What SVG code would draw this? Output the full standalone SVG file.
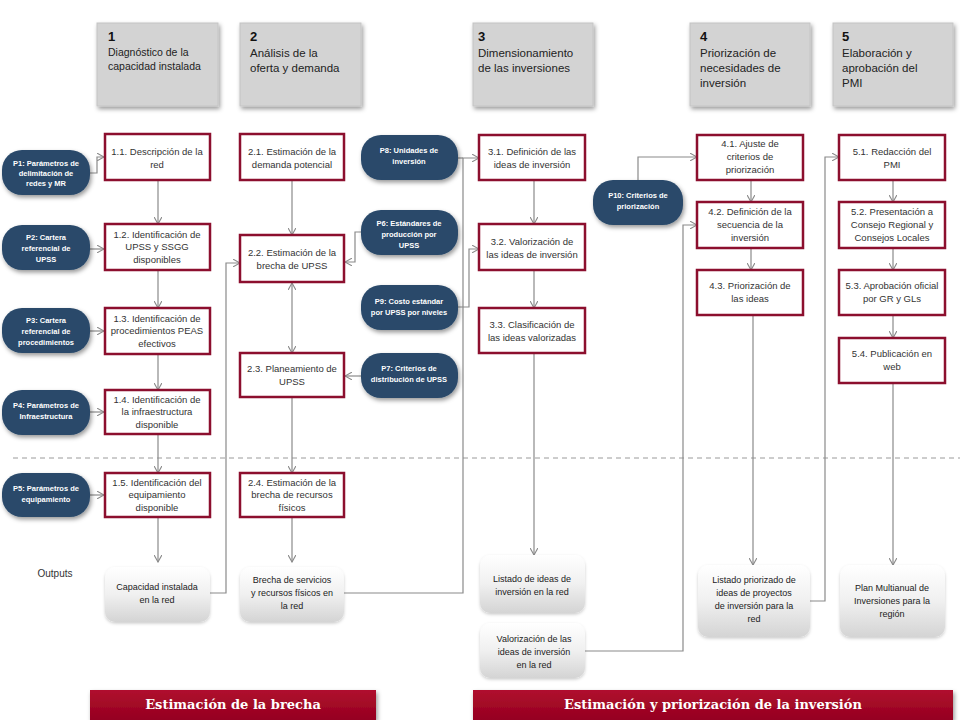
<svg xmlns="http://www.w3.org/2000/svg" width="960" height="720" viewBox="0 0 960 720">
<defs>
<style>
.hdr{fill:#d3d3d3;stroke:#c4c4c4;stroke-width:1;filter:url(#sh)}
.ht{font-family:"Liberation Sans",Arial,sans-serif;font-size:11.5px;fill:#222}
.hn{font-family:"Liberation Sans",Arial,sans-serif;font-size:13px;font-weight:bold;fill:#111}
.step{fill:#fff;stroke:#8c0f2e;stroke-width:2.5}
.st{font-family:"Liberation Sans",Arial,sans-serif;font-size:9.5px;fill:#333;text-anchor:middle}
.pill{fill:#2a4a6b;filter:url(#sh)}
.pt{font-family:"Liberation Sans",Arial,sans-serif;font-size:7.5px;font-weight:bold;fill:#fff;text-anchor:middle}
.out{fill:url(#og);filter:url(#sh2)}
.ot{font-family:"Liberation Sans",Arial,sans-serif;font-size:9px;fill:#222;text-anchor:middle}
.con{fill:none;stroke:#8a8a8a;stroke-width:1.2}
.ban{fill:url(#bg);filter:url(#sh)}
.bt{font-family:"DejaVu Serif","Liberation Serif",serif;font-size:13px;font-weight:bold;fill:#fff;text-anchor:middle}
</style>
<filter id="sh" x="-20%" y="-20%" width="140%" height="150%">
<feDropShadow dx="1.5" dy="2.5" stdDeviation="2" flood-color="#000" flood-opacity="0.4"/>
</filter>
<filter id="sh2" x="-20%" y="-20%" width="140%" height="150%">
<feDropShadow dx="0" dy="1.5" stdDeviation="1.5" flood-color="#000" flood-opacity="0.2"/>
</filter>
<linearGradient id="og" x1="0" y1="0" x2="0" y2="1">
<stop offset="0" stop-color="#ffffff"/>
<stop offset="0.5" stop-color="#f0f0f0"/>
<stop offset="1" stop-color="#d4d4d4"/>
</linearGradient>
<linearGradient id="bg" x1="0" y1="0" x2="0" y2="1">
<stop offset="0" stop-color="#b0102e"/>
<stop offset="1" stop-color="#950020"/>
</linearGradient>
<marker id="ar" viewBox="0 0 10 10" refX="9" refY="5" markerWidth="8" markerHeight="8" orient="auto-start-reverse" markerUnits="userSpaceOnUse">
<path d="M0,0 L9,5 L0,10" fill="none" stroke="#8a8a8a" stroke-width="1.4"/>
</marker>
</defs>
<rect width="960" height="720" fill="#fff"/>

<!-- dashed separator -->
<line x1="13" y1="458" x2="960" y2="458" stroke="#9a9a9a" stroke-width="1" stroke-dasharray="5,4"/>
<text x="55" y="577" font-family="Liberation Sans,Arial,sans-serif" font-size="10" fill="#333" text-anchor="middle">Outputs</text>

<!-- headers -->
<g id="h1"><rect class="hdr" x="97" y="23" width="121" height="83"/><text class="hn" x="108" y="41">1</text><text class="ht" x="108" y="56" style="font-size:10.5px">Diagnóstico de la</text><text class="ht" x="108" y="70" style="font-size:10.5px">capacidad instalada</text></g>
<g id="h2"><rect class="hdr" x="240" y="23" width="121" height="83"/><text class="hn" x="250" y="41">2</text><text class="ht" x="250" y="57">Análisis de la</text><text class="ht" x="250" y="72">oferta y demanda</text></g>
<g id="h3"><rect class="hdr" x="473" y="23" width="120" height="83"/><text class="hn" x="478" y="41">3</text><text class="ht" x="478" y="57">Dimensionamiento</text><text class="ht" x="478" y="72">de las inversiones</text></g>
<g id="h4"><rect class="hdr" x="690" y="23" width="120" height="83"/><text class="hn" x="700" y="41">4</text><text class="ht" x="700" y="57">Priorización de</text><text class="ht" x="700" y="72">necesidades de</text><text class="ht" x="700" y="87">inversión</text></g>
<g id="h5"><rect class="hdr" x="833" y="23" width="120" height="83"/><text class="hn" x="842" y="41">5</text><text class="ht" x="842" y="57">Elaboración y</text><text class="ht" x="842" y="72">aprobación del</text><text class="ht" x="842" y="87">PMI</text></g>

<!-- connectors -->
<g id="connectors">
<path class="con" d="M90,173 H97 V157 H104" marker-end="url(#ar)"/>
<path class="con" d="M90,249 H104" marker-end="url(#ar)"/>
<path class="con" d="M90,331 H104" marker-end="url(#ar)"/>
<path class="con" d="M90,412 H104" marker-end="url(#ar)"/>
<path class="con" d="M90,495 H104" marker-end="url(#ar)"/>
<path class="con" d="M158,180 V224" marker-end="url(#ar)"/>
<path class="con" d="M158,270 V308" marker-end="url(#ar)"/>
<path class="con" d="M158,354 V390" marker-end="url(#ar)"/>
<path class="con" d="M158,434 V473" marker-end="url(#ar)"/>
<path class="con" d="M158,517 V562" marker-end="url(#ar)"/>
<path class="con" d="M210,593 H226 V263 H240" marker-end="url(#ar)"/>
<path class="con" d="M292,180 V235" marker-end="url(#ar)"/>
<path class="con" d="M292,283 V353" marker-start="url(#ar)" marker-end="url(#ar)"/>
<path class="con" d="M292,397 V473" marker-end="url(#ar)"/>
<path class="con" d="M292,517 V562" marker-end="url(#ar)"/>
<path class="con" d="M361,232 H355 V262 H345" marker-end="url(#ar)"/>
<path class="con" d="M361,376 H345" marker-end="url(#ar)"/>
<path class="con" d="M344,593 H463 V158 H479" marker-end="url(#ar)"/>
<path class="con" d="M458,158 H463"/>
<path class="con" d="M458,307 H469 V249 H479" marker-end="url(#ar)"/>
<path class="con" d="M534,180 V224" marker-end="url(#ar)"/>
<path class="con" d="M534,270 V308" marker-end="url(#ar)"/>
<path class="con" d="M534,353 V555" marker-end="url(#ar)"/>
<path class="con" d="M638,180 V157 H697" marker-end="url(#ar)"/>
<path class="con" d="M585,651 H683 V225 H697" marker-end="url(#ar)"/>
<path class="con" d="M751,180 V202" marker-end="url(#ar)"/>
<path class="con" d="M751,248 V270" marker-end="url(#ar)"/>
<path class="con" d="M753,315 V565" marker-end="url(#ar)"/>
<path class="con" d="M810,601 H825 V157 H839" marker-end="url(#ar)"/>
<path class="con" d="M893,180 V202" marker-end="url(#ar)"/>
<path class="con" d="M893,248 V270" marker-end="url(#ar)"/>
<path class="con" d="M893,315 V338" marker-end="url(#ar)"/>
<path class="con" d="M893,383 V565" marker-end="url(#ar)"/>
</g>

<!-- P nodes -->
<g id="p1"><rect class="pill" x="2" y="150" width="88" height="45" rx="20"/><text class="pt" x="46" y="166">P1: Parámetros de</text><text class="pt" x="46" y="176">delimitación de</text><text class="pt" x="46" y="186">redes y MR</text></g>
<g id="p2"><rect class="pill" x="2" y="225" width="88" height="45" rx="20"/><text class="pt" x="46" y="240">P2: Cartera</text><text class="pt" x="46" y="251">referencial de</text><text class="pt" x="46" y="262">UPSS</text></g>
<g id="p3"><rect class="pill" x="2" y="308" width="88" height="45" rx="20"/><text class="pt" x="46" y="323">P3: Cartera</text><text class="pt" x="46" y="334">referencial de</text><text class="pt" x="46" y="345">procedimientos</text></g>
<g id="p4"><rect class="pill" x="2" y="390" width="88" height="45" rx="20"/><text class="pt" x="46" y="408">P4: Parámetros de</text><text class="pt" x="46" y="419">Infraestructura</text></g>
<g id="p5"><rect class="pill" x="2" y="473" width="88" height="44" rx="20"/><text class="pt" x="46" y="491">P5: Parámetros de</text><text class="pt" x="46" y="502">equipamiento</text></g>
<g id="p8"><rect class="pill" x="361" y="135" width="97" height="45" rx="20"/><text class="pt" x="409" y="153">P8: Unidades de</text><text class="pt" x="409" y="164">inversión</text></g>
<g id="p6"><rect class="pill" x="361" y="210" width="97" height="45" rx="20"/><text class="pt" x="409" y="226">P6: Estándares de</text><text class="pt" x="409" y="237">producción por</text><text class="pt" x="409" y="248">UPSS</text></g>
<g id="p9"><rect class="pill" x="361" y="285" width="97" height="45" rx="20"/><text class="pt" x="409" y="304">P9: Costo  estándar</text><text class="pt" x="409" y="315">por UPSS  por niveles</text></g>
<g id="p7"><rect class="pill" x="361" y="353" width="97" height="45" rx="20"/><text class="pt" x="409" y="371">P7: Criterios de</text><text class="pt" x="409" y="382">distribución de UPSS</text></g>
<g id="p10"><rect class="pill" x="593" y="180" width="90" height="45" rx="20"/><text class="pt" x="638" y="198">P10: Criterios de</text><text class="pt" x="638" y="209">priorización</text></g>

<!-- step boxes -->
<g id="s11"><rect class="step" x="105" y="134" width="105" height="46"/><text class="st" x="157" y="155">1.1. Descripción de la</text><text class="st" x="157" y="168">red</text></g>
<g id="s12"><rect class="step" x="105" y="224" width="105" height="46"/><text class="st" x="157" y="238">1.2. Identificación de</text><text class="st" x="157" y="250">UPSS y SSGG</text><text class="st" x="157" y="263">disponibles</text></g>
<g id="s13"><rect class="step" x="105" y="308" width="105" height="46"/><text class="st" x="157" y="322">1.3. Identificación de</text><text class="st" x="157" y="334">procedimientos PEAS</text><text class="st" x="157" y="347">efectivos</text></g>
<g id="s14"><rect class="step" x="105" y="390" width="105" height="44"/><text class="st" x="157" y="403">1.4. Identificación de</text><text class="st" x="157" y="415">la infraestructura</text><text class="st" x="157" y="428">disponible</text></g>
<g id="s15"><rect class="step" x="105" y="473" width="105" height="44"/><text class="st" x="157" y="486">1.5. Identificación del</text><text class="st" x="157" y="498">equipamiento</text><text class="st" x="157" y="511">disponible</text></g>

<g id="s21"><rect class="step" x="240" y="134" width="104" height="46"/><text class="st" x="292" y="155">2.1. Estimación de la</text><text class="st" x="292" y="168">demanda potencial</text></g>
<g id="s22"><rect class="step" x="240" y="235" width="104" height="47"/><text class="st" x="292" y="256">2.2. Estimación de la</text><text class="st" x="292" y="269">brecha de UPSS</text></g>
<g id="s23"><rect class="step" x="240" y="353" width="104" height="44"/><text class="st" x="292" y="372">2.3. Planeamiento de</text><text class="st" x="292" y="385">UPSS</text></g>
<g id="s24"><rect class="step" x="240" y="473" width="104" height="44"/><text class="st" x="292" y="486">2.4. Estimación de la</text><text class="st" x="292" y="498">brecha de recursos</text><text class="st" x="292" y="511">físicos</text></g>

<g id="s31"><rect class="step" x="479" y="135" width="106" height="45"/><text class="st" x="532" y="155">3.1. Definición de las</text><text class="st" x="532" y="168">ideas de inversión</text></g>
<g id="s32"><rect class="step" x="479" y="224" width="106" height="46"/><text class="st" x="532" y="245">3.2. Valorización de</text><text class="st" x="532" y="258">las ideas de inversión</text></g>
<g id="s33"><rect class="step" x="479" y="308" width="106" height="45"/><text class="st" x="532" y="328">3.3. Clasificación de</text><text class="st" x="532" y="341">las ideas valorizadas</text></g>

<g id="s41"><rect class="step" x="697" y="135" width="106" height="45"/><text class="st" x="750" y="147">4.1. Ajuste de</text><text class="st" x="750" y="160">criterios de</text><text class="st" x="750" y="173">priorización</text></g>
<g id="s42"><rect class="step" x="697" y="202" width="106" height="46"/><text class="st" x="750" y="215">4.2. Definición de la</text><text class="st" x="750" y="228">secuencia de la</text><text class="st" x="750" y="241">inversión</text></g>
<g id="s43"><rect class="step" x="697" y="270" width="106" height="45"/><text class="st" x="750" y="289">4.3. Priorización de</text><text class="st" x="750" y="302">las ideas</text></g>

<g id="s51"><rect class="step" x="839" y="135" width="106" height="45"/><text class="st" x="892" y="155">5.1. Redacción del</text><text class="st" x="892" y="168">PMI</text></g>
<g id="s52"><rect class="step" x="839" y="202" width="106" height="46"/><text class="st" x="892" y="215">5.2. Presentación a</text><text class="st" x="892" y="228">Consejo Regional y</text><text class="st" x="892" y="241">Consejos Locales</text></g>
<g id="s53"><rect class="step" x="839" y="270" width="106" height="45"/><text class="st" x="892" y="289">5.3. Aprobación oficial</text><text class="st" x="892" y="302">por GR y GLs</text></g>
<g id="s54"><rect class="step" x="839" y="338" width="106" height="45"/><text class="st" x="892" y="357">5.4. Publicación en</text><text class="st" x="892" y="370">web</text></g>

<!-- outputs -->
<g id="o1"><rect class="out" x="105" y="567" width="105" height="55" rx="10"/><text class="ot" x="157" y="590">Capacidad instalada</text><text class="ot" x="157" y="603">en la red</text></g>
<g id="o2"><rect class="out" x="240" y="567" width="104" height="55" rx="10"/><text class="ot" x="292" y="583">Brecha de servicios</text><text class="ot" x="292" y="596">y recursos físicos en</text><text class="ot" x="292" y="609">la red</text></g>
<g id="o3"><rect class="out" x="480" y="555" width="105" height="58" rx="10"/><text class="ot" x="532" y="582">Listado de ideas de</text><text class="ot" x="532" y="595">inversión en la red</text></g>
<g id="o4"><rect class="out" x="480" y="623" width="105" height="55" rx="10"/><text class="ot" x="534" y="642">Valorización de las</text><text class="ot" x="534" y="655">ideas de inversión</text><text class="ot" x="534" y="668">en la red</text></g>
<g id="o5"><rect class="out" x="698" y="565" width="112" height="72" rx="10"/><text class="ot" x="754" y="583">Listado priorizado de</text><text class="ot" x="754" y="596">ideas de  proyectos</text><text class="ot" x="754" y="609">de inversión para la</text><text class="ot" x="754" y="622">red</text></g>
<g id="o6"><rect class="out" x="840" y="565" width="105" height="72" rx="10"/><text class="ot" x="892" y="591">Plan Multianual de</text><text class="ot" x="892" y="604">Inversiones para la</text><text class="ot" x="892" y="617">región</text></g>

<!-- banners -->
<g id="b1"><rect class="ban" x="90" y="690" width="286" height="30"/><text class="bt" x="233" y="709">Estimación de la brecha</text></g>
<g id="b2"><rect class="ban" x="473" y="690" width="480" height="30"/><text class="bt" x="713" y="709">Estimación y priorización de la inversión</text></g>
</svg>
